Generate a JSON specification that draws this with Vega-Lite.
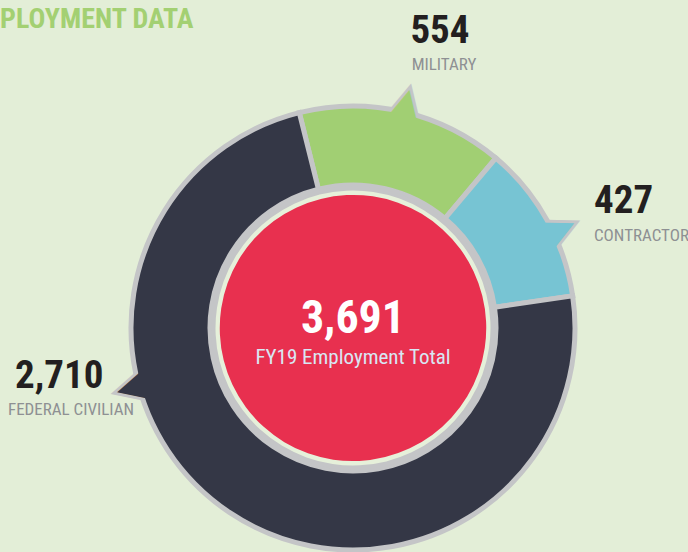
{
  "$schema": "https://vega.github.io/schema/vega-lite/v6.json",
  "width": 670,
  "height": 448,
  "padding": {"left": 18, "top": 104, "right": 0, "bottom": 0},
  "autosize": {"type": "none"},
  "background": "#e3eed7",
  "config": {"view": {"stroke": null}},
  "title": {
    "text": "PLOYMENT DATA",
    "anchor": "start",
    "frame": "bounds",
    "orient": "top",
    "baseline": "alphabetic",
    "offset": -44,
    "dx": -8,
    "font": "Roboto Condensed, Liberation Sans Narrow, DejaVu Sans Condensed, sans-serif",
    "fontSize": 28,
    "fontWeight": "bold",
    "color": "#a3d072"
  },
  "data": {
    "values": [
      {"category": "MILITARY", "value": 554, "rank": 1},
      {"category": "CONTRACTOR", "value": 427, "rank": 2},
      {"category": "FEDERAL CIVILIAN", "value": 2710, "rank": 3}
    ]
  },
  "transform": [
    {"stack": "value", "groupby": [], "sort": [{"field": "rank", "order": "ascending"}], "as": ["t0", "t1"]}
  ],
  "layer": [
    {
      "transform": [{"filter": "datum.category === 'MILITARY'"}],
      "mark": {"type": "text", "text": "▲", "radius": 215, "thetaOffset": 0.4774, "angle": 13.3, "align": "center", "baseline": "alphabetic", "font": "DejaVu Sans", "fontSize": 46, "fill": "#c4c5c7", "stroke": "#c4c5c7", "strokeWidth": 6, "strokeJoin": "miter"},
      "encoding": {"theta": {"field": "t0", "type": "quantitative"}}
    },
    {
      "transform": [{"filter": "datum.category === 'CONTRACTOR'"}],
      "mark": {"type": "text", "text": "▲", "radius": 215, "thetaOffset": 0.4295, "angle": 64.7, "align": "center", "baseline": "alphabetic", "font": "DejaVu Sans", "fontSize": 46, "fill": "#c4c5c7", "stroke": "#c4c5c7", "strokeWidth": 6, "strokeJoin": "miter"},
      "encoding": {"theta": {"field": "t0", "type": "quantitative"}}
    },
    {
      "transform": [{"filter": "datum.category === 'FEDERAL CIVILIAN'"}],
      "mark": {"type": "text", "text": "▲", "radius": 215, "thetaOffset": 3.0197, "angle": 255, "align": "center", "baseline": "alphabetic", "font": "DejaVu Sans", "fontSize": 46, "fill": "#c4c5c7", "stroke": "#c4c5c7", "strokeWidth": 6, "strokeJoin": "miter"},
      "encoding": {"theta": {"field": "t0", "type": "quantitative"}}
    },
    {
      "mark": {"type": "arc", "outerRadius": 222, "innerRadius": 143, "stroke": "#c4c5c7", "strokeWidth": 5},
      "encoding": {
        "theta": {"field": "t0", "type": "quantitative", "scale": {"zero": true, "nice": false, "range": [-0.24435, 6.03884]}},
        "theta2": {"field": "t1"},
        "color": {
          "field": "category",
          "type": "nominal",
          "scale": {"domain": ["MILITARY", "CONTRACTOR", "FEDERAL CIVILIAN"], "range": ["#a1cf73", "#77c4d3", "#343746"]},
          "legend": null
        }
      }
    },
    {
      "transform": [{"filter": "datum.category === 'MILITARY'"}],
      "mark": {"type": "text", "text": "▲", "radius": 215, "thetaOffset": 0.4774, "angle": 13.3, "align": "center", "baseline": "alphabetic", "font": "DejaVu Sans", "fontSize": 46},
      "encoding": {"theta": {"field": "t0", "type": "quantitative"}, "color": {"field": "category", "type": "nominal", "legend": null}}
    },
    {
      "transform": [{"filter": "datum.category === 'CONTRACTOR'"}],
      "mark": {"type": "text", "text": "▲", "radius": 215, "thetaOffset": 0.4295, "angle": 64.7, "align": "center", "baseline": "alphabetic", "font": "DejaVu Sans", "fontSize": 46},
      "encoding": {"theta": {"field": "t0", "type": "quantitative"}, "color": {"field": "category", "type": "nominal", "legend": null}}
    },
    {
      "transform": [{"filter": "datum.category === 'FEDERAL CIVILIAN'"}],
      "mark": {"type": "text", "text": "▲", "radius": 215, "thetaOffset": 3.0197, "angle": 255, "align": "center", "baseline": "alphabetic", "font": "DejaVu Sans", "fontSize": 46},
      "encoding": {"theta": {"field": "t0", "type": "quantitative"}, "color": {"field": "category", "type": "nominal", "legend": null}}
    },
    {
      "mark": {"type": "arc", "outerRadius": 142, "innerRadius": 0, "color": "#c4c5c7"},
      "encoding": {"theta": {"aggregate": "sum", "field": "value", "type": "quantitative"}}
    },
    {
      "mark": {"type": "arc", "outerRadius": 137.5, "innerRadius": 0, "color": "#e6f0da"},
      "encoding": {"theta": {"aggregate": "sum", "field": "value", "type": "quantitative"}}
    },
    {
      "mark": {"type": "arc", "outerRadius": 133, "innerRadius": 0, "color": "#e8304f"},
      "encoding": {"theta": {"aggregate": "sum", "field": "value", "type": "quantitative"}}
    },
    {
      "transform": [{"aggregate": [{"op": "sum", "field": "value", "as": "total"}]}],
      "mark": {"type": "text", "align": "center", "baseline": "alphabetic", "dy": 5, "font": "Roboto Condensed, Liberation Sans Narrow, DejaVu Sans Condensed, sans-serif", "fontSize": 46, "fontWeight": "bold", "color": "#ffffff"},
      "encoding": {"text": {"field": "total", "type": "quantitative", "format": ","}}
    },
    {
      "transform": [{"aggregate": [{"op": "sum", "field": "value", "as": "total"}]}],
      "mark": {"type": "text", "text": "FY19 Employment Total", "align": "center", "baseline": "alphabetic", "dy": 36, "font": "Roboto Condensed, Liberation Sans Narrow, DejaVu Sans Condensed, sans-serif", "fontSize": 21, "color": "#d8e7f4"},
      "encoding": {}
    },
    {
      "transform": [{"filter": "datum.category === 'MILITARY'"}],
      "mark": {"type": "text", "radius": 298, "thetaOffset": 0.5405, "align": "center", "baseline": "alphabetic", "font": "Roboto Condensed, Liberation Sans Narrow, DejaVu Sans Condensed, sans-serif", "fontSize": 39, "fontWeight": "bold", "color": "#231f20"},
      "encoding": {"theta": {"field": "t0", "type": "quantitative"}, "text": {"field": "value", "type": "quantitative", "format": ","}}
    },
    {
      "transform": [{"filter": "datum.category === 'MILITARY'"}],
      "mark": {"type": "text", "radius": 273.6, "thetaOffset": 0.5835, "align": "center", "baseline": "alphabetic", "font": "Roboto Condensed, Liberation Sans Narrow, DejaVu Sans Condensed, sans-serif", "fontSize": 17, "color": "#8e9093"},
      "encoding": {"theta": {"field": "t0", "type": "quantitative"}, "text": {"field": "category", "type": "nominal"}}
    },
    {
      "transform": [{"filter": "datum.category === 'CONTRACTOR'"}],
      "mark": {"type": "text", "radius": 267, "thetaOffset": 0.4269, "align": "left", "baseline": "alphabetic", "font": "Roboto Condensed, Liberation Sans Narrow, DejaVu Sans Condensed, sans-serif", "fontSize": 39, "fontWeight": "bold", "color": "#231f20"},
      "encoding": {"theta": {"field": "t0", "type": "quantitative"}, "text": {"field": "value", "type": "quantitative", "format": ","}}
    },
    {
      "transform": [{"filter": "datum.category === 'CONTRACTOR'"}],
      "mark": {"type": "text", "radius": 256.2, "thetaOffset": 0.5257, "align": "left", "baseline": "alphabetic", "font": "Roboto Condensed, Liberation Sans Narrow, DejaVu Sans Condensed, sans-serif", "fontSize": 17, "color": "#8e9093"},
      "encoding": {"theta": {"field": "t0", "type": "quantitative"}, "text": {"field": "category", "type": "nominal"}}
    },
    {
      "transform": [{"filter": "datum.category === 'FEDERAL CIVILIAN'"}],
      "mark": {"type": "text", "radius": 343.3, "thetaOffset": 3.1110, "align": "left", "baseline": "alphabetic", "font": "Roboto Condensed, Liberation Sans Narrow, DejaVu Sans Condensed, sans-serif", "fontSize": 39, "fontWeight": "bold", "color": "#231f20"},
      "encoding": {"theta": {"field": "t0", "type": "quantitative"}, "text": {"field": "value", "type": "quantitative", "format": ","}}
    },
    {
      "transform": [{"filter": "datum.category === 'FEDERAL CIVILIAN'"}],
      "mark": {"type": "text", "radius": 355.8, "thetaOffset": 3.0398, "align": "left", "baseline": "alphabetic", "font": "Roboto Condensed, Liberation Sans Narrow, DejaVu Sans Condensed, sans-serif", "fontSize": 17, "color": "#8e9093"},
      "encoding": {"theta": {"field": "t0", "type": "quantitative"}, "text": {"field": "category", "type": "nominal"}}
    }
  ]
}
